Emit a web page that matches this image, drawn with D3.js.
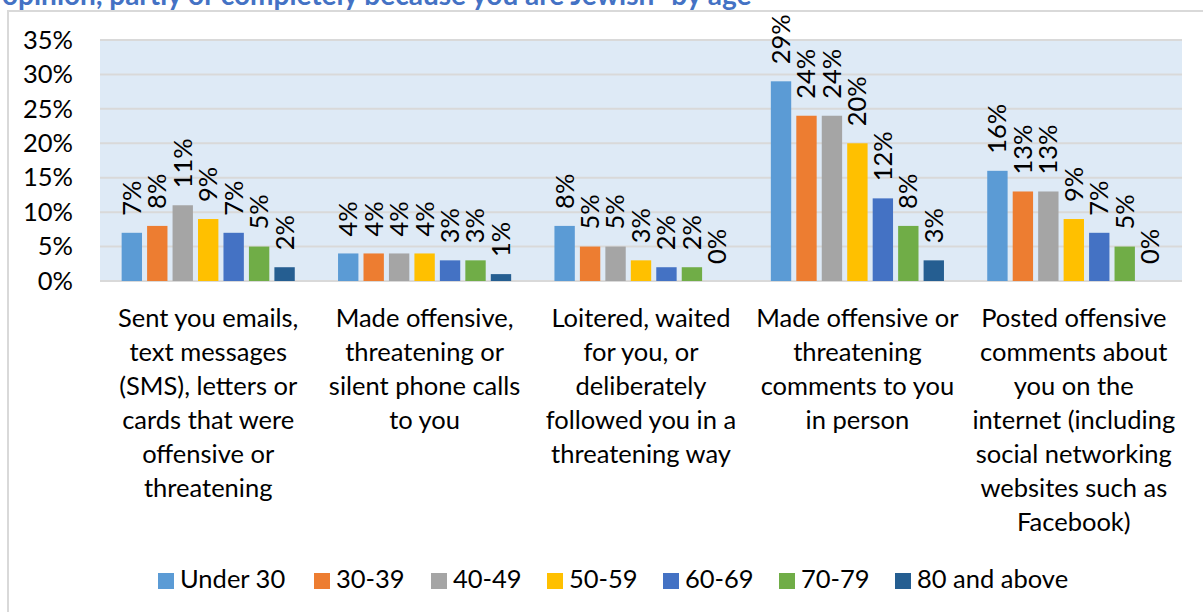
<!DOCTYPE html>
<html>
<head>
<meta charset="utf-8">
<script src="https://cdn.jsdelivr.net/npm/d3@7"></script>
<style>
  body { margin: 0; background: #fff; }
  svg { display: block; font-family: Lato, "Open Sans", sans-serif; }
</style>
</head>
<body>
<div id="chart"></div>
<script>
// data
const categories = [
  ["Sent you emails,", "text messages", "(SMS), letters or", "cards that were", "offensive or", "threatening"],
  ["Made offensive,", "threatening or", "silent phone calls", "to you"],
  ["Loitered, waited", "for you, or", "deliberately", "followed you in a", "threatening way"],
  ["Made offensive or", "threatening", "comments to you", "in person"],
  ["Posted offensive", "comments about", "you on the", "internet (including", "social networking", "websites such as", "Facebook)"]
];
const seriesNames = ["Under 30", "30-39", "40-49", "50-59", "60-69", "70-79", "80 and above"];
const under30 = [7, 4, 8, 29, 16];
const age30to39 = [8, 4, 5, 24, 13];
const age40to49 = [11, 4, 5, 24, 13];
const age50to59 = [9, 4, 3, 20, 9];
const age60to69 = [7, 3, 2, 12, 7];
const age70to79 = [5, 3, 2, 8, 5];
const age80plus = [2, 1, 0, 3, 0];
const yTicks = [0, 5, 10, 15, 20, 25, 30, 35];
const colors = ["#5B9BD5", "#ED7D31", "#A5A5A5", "#FFC000", "#4472C4", "#70AD47", "#255E91"];
const titleText = "opinion, partly or completely because you are Jewish\u201D by age";

const series = [under30, age30to39, age40to49, age50to59, age60to69, age70to79, age80plus];

const width = 1203, height = 612;
const plot = { left: 100, right: 1182, top: 40, bottom: 281 };
const fontSize = 25.5;

const svg = d3.select("#chart").append("svg")
  .attr("width", width)
  .attr("height", height);

// title, cut off at the top like the source
svg.append("text")
  .attr("x", 2).attr("y", 5)
  .attr("font-size", 28).attr("font-weight", "bold")
  .attr("fill", "#4472C4")
  .text(titleText);

// chart frame
svg.append("path")
  .attr("d", "M8," + height + " V11 H" + width)
  .attr("fill", "none")
  .attr("stroke", "#D9D9D9")
  .attr("stroke-width", 2);

let x0 = d3.scaleBand()
  .domain(d3.range(categories.length))
  .range([plot.left, plot.right])
  .paddingInner(0.2)
  .paddingOuter(0.1);

let x1 = d3.scaleBand()
  .domain(d3.range(series.length))
  .range([0, x0.bandwidth()])
  .paddingInner(0.2);

let y = d3.scaleLinear()
  .domain([0, 35])
  .range([plot.bottom, plot.top]);

// plot background
svg.append("rect")
  .attr("x", plot.left).attr("y", plot.top)
  .attr("width", plot.right - plot.left)
  .attr("height", plot.bottom - plot.top)
  .attr("fill", "#DEEAF6");

// gridlines
svg.append("g")
  .selectAll("line")
  .data(yTicks)
  .enter().append("line")
  .attr("x1", plot.left).attr("x2", plot.right)
  .attr("y1", d => y(d)).attr("y2", d => y(d))
  .attr("stroke", "#D9D9D9")
  .attr("stroke-width", 2);

// y axis
let yAxis = d3.axisLeft(y).tickValues(yTicks).tickSize(0).tickPadding(0)
  .tickFormat(d => d + "%");
svg.append("g")
  .attr("transform", "translate(73,0)")
  .call(yAxis)
  .call(g => g.select(".domain").remove())
  .selectAll("text")
  .attr("font-size", fontSize)
  .attr("font-family", "Lato, sans-serif")
  .attr("fill", "#000");

// bars
let groups = svg.append("g")
  .selectAll("g")
  .data(series)
  .enter().append("g")
  .attr("fill", (d, i) => colors[i]);

groups.selectAll("rect")
  .data((d, i) => d.map((v, c) => ({ v: v, c: c, s: i })))
  .enter().append("rect")
  .attr("x", d => x0(d.c) + x1(d.s))
  .attr("y", d => y(d.v))
  .attr("width", x1.bandwidth())
  .attr("height", d => plot.bottom - y(d.v));

// value labels (rotated)
groups.selectAll("text")
  .data((d, i) => d.map((v, c) => ({ v: v, c: c, s: i })))
  .enter().append("text")
  .attr("transform", d => "translate(" + (x0(d.c) + x1(d.s) + x1.bandwidth() / 2) + "," + (y(d.v) - 17) + ") rotate(-90)")
  .attr("dy", "0.35em")
  .attr("font-size", fontSize)
  .attr("fill", "#000")
  .text(d => d.v + "%");

// category labels
let cat = svg.append("g")
  .selectAll("text")
  .data(categories)
  .enter().append("text")
  .attr("text-anchor", "middle")
  .attr("font-size", fontSize)
  .attr("fill", "#000");

cat.selectAll("tspan")
  .data((d, i) => d.map(line => ({ line: line, c: i })))
  .enter().append("tspan")
  .attr("x", d => x0(d.c) + x0.bandwidth() / 2)
  .attr("y", (d, i) => 327 + i * 34)
  .text(d => d.line);

// legend
const legendX = [158, 314, 431, 547, 663, 779, 895];
let legend = svg.append("g")
  .selectAll("g")
  .data(seriesNames)
  .enter().append("g")
  .attr("transform", (d, i) => "translate(" + legendX[i] + ",573)");

legend.append("rect")
  .attr("width", 16).attr("height", 16)
  .attr("fill", (d, i) => colors[i]);

legend.append("text")
  .attr("x", 22).attr("y", 15)
  .attr("font-size", fontSize)
  .attr("fill", "#000")
  .text(d => d);
</script>
</body>
</html>
